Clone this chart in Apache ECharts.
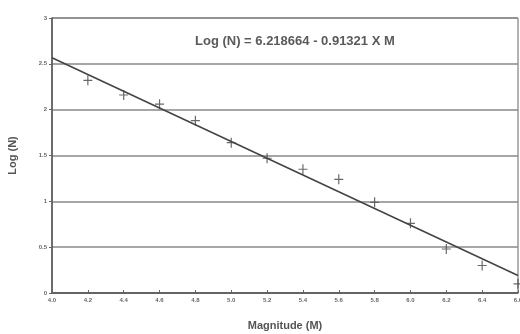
<!DOCTYPE html>
<html>
<head>
<meta charset="utf-8">
<script src="https://cdn.jsdelivr.net/npm/echarts@6/dist/echarts.min.js"></script>
<style>html,body{margin:0;padding:0;background:#fff;}#c{width:520px;height:334px;}</style>
</head>
<body>
<div id="c"></div>
<script>
var magnitudes = [4.2, 4.4, 4.6, 4.8, 5.0, 5.2, 5.4, 5.6, 5.8, 6.0, 6.2, 6.4, 6.6];
var logN = [2.32, 2.16, 2.06, 1.88, 1.64, 1.47, 1.35, 1.24, 0.99, 0.76, 0.48, 0.30, 0.10];
var fitM = [4.0, 6.6];
var fitLogN = [2.566, 0.191];
var equationText = 'Log (N) = 6.218664 - 0.91321 X M';

var chart = echarts.init(document.getElementById('c'), null, {renderer: 'canvas'});
var plus = 'path://M-0.6,-5 L0.6,-5 L0.6,-0.6 L4.5,-0.6 L4.5,0.6 L0.6,0.6 L0.6,5 L-0.6,5 L-0.6,0.6 L-4.5,0.6 L-4.5,-0.6 L-0.6,-0.6 Z';
chart.setOption({
  animation: false,
  backgroundColor: '#fff',
  grid: {left: 52, right: 2, top: 18, bottom: 41, outerBoundsMode: 'none', containLabel: false, show: true, borderColor: '#666', borderWidth: 1},
  xAxis: {
    type: 'value', min: 4.0, max: 6.6, interval: 0.2,
    name: 'Magnitude (M)', nameLocation: 'middle', nameGap: 27,
    nameTextStyle: {fontFamily: 'Liberation Sans', fontWeight: 'bold', fontSize: 11, color: '#555'},
    axisLine: {lineStyle: {color: '#555', width: 1.5}},
    axisTick: {inside: true, length: 3, lineStyle: {color: '#666'}},
    axisLabel: {fontSize: 6, fontWeight: 'bold', color: '#666', margin: 4, formatter: function(v){return v.toFixed(1);}},
    splitLine: {show: false}
  },
  yAxis: {
    type: 'value', min: 0, max: 3, interval: 0.5,
    name: 'Log (N)', nameLocation: 'middle', nameGap: 34,
    nameTextStyle: {fontFamily: 'Liberation Sans', fontWeight: 'bold', fontSize: 11, color: '#555'},
    axisLine: {show: true, lineStyle: {color: '#555', width: 1.5}},
    axisTick: {show: true, length: 3, lineStyle: {color: '#666'}},
    axisLabel: {fontSize: 6, fontWeight: 'bold', color: '#666', margin: 5},
    splitLine: {show: true, lineStyle: {color: '#888', width: 1.5}}
  },
  graphic: [{
    type: 'text', left: 195, top: 35,
    style: {text: equationText, font: 'bold 13px "Liberation Sans"', fill: '#5a5a5a'}
  }],
  series: [
    {
      type: 'line', data: fitM.map(function(m, i){return [m, fitLogN[i]];}),
      symbol: 'none', lineStyle: {color: '#444', width: 1.6}, z: 3
    },
    {
      type: 'scatter', data: magnitudes.map(function(m, i){return [m, logN[i]];}),
      symbol: plus, symbolSize: [9, 10], itemStyle: {color: '#444'}, z: 4
    }
  ]
});
</script>
</body>
</html>
